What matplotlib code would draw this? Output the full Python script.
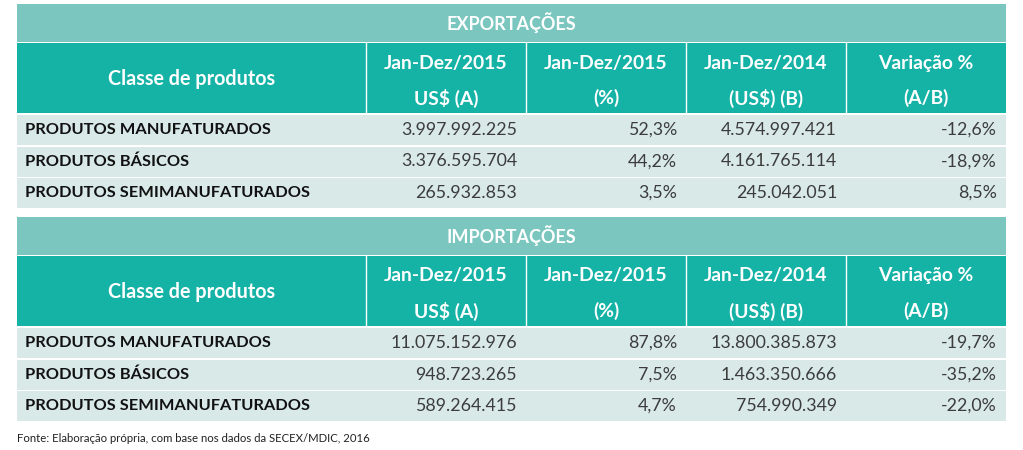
import matplotlib
matplotlib.use("Agg")
import matplotlib.pyplot as plt
from matplotlib.patches import Rectangle

# ---- data ----
categories = ["PRODUTOS MANUFATURADOS", "PRODUTOS BÁSICOS", "PRODUTOS SEMIMANUFATURADOS"]
col_headers = [("Jan-Dez/2015", "US$ (A)"), ("Jan-Dez/2015", "(%)"),
               ("Jan-Dez/2014", "(US$) (B)"), ("Variação %", "(A/B)")]
first_header = "Classe de produtos"

exp_title = "EXPORTAÇÕES"
exp_2015 = [3997992225, 3376595704, 265932853]
exp_share = [52.3, 44.2, 3.5]
exp_2014 = [4574997421, 4161765114, 245042051]
exp_var = [-12.6, -18.9, 8.5]

imp_title = "IMPORTAÇÕES"
imp_2015 = [11075152976, 948723265, 589264415]
imp_share = [87.8, 7.5, 4.7]
imp_2014 = [13800385873, 1463350666, 754990349]
imp_var = [-19.7, -35.2, -22.0]

footer = "Fonte: Elaboração própria, com base nos dados da SECEX/MDIC, 2016"

# ---- style ----
BAND = "#7bc7bf"
HEAD = "#15b2a6"
ROW = "#d8e9e8"
FONT = "Lato"


def fmt_int(v):
    return f"{v:,}".replace(",", ".")


def fmt_pct(v):
    return f"{v:.1f}%".replace(".", ",")


fig = plt.figure(figsize=(10.23, 4.5), dpi=100)
ax = fig.add_axes([0, 0, 1, 1])
ax.set_xlim(0, 1023)
ax.set_ylim(450, 0)
ax.axis("off")

x0, x1 = 17, 1006
col_edges = [17, 366, 526, 686, 846, 1006]


def draw_section(top, title, v2015, share, v2014, var):
    # title band
    ax.add_patch(Rectangle((x0, top), x1 - x0, 38, color=BAND, lw=0))
    ax.text((x0 + x1) / 2, top + 19, title, ha="center", va="center",
            color="white", fontsize=13, fontweight="bold", family=FONT)
    # header
    htop = top + 39
    ax.add_patch(Rectangle((x0, htop), x1 - x0, 70, color=HEAD, lw=0))
    for e in col_edges[1:-1]:
        ax.plot([e, e], [htop, htop + 70], color="white", lw=1.0)
    ax.text((col_edges[0] + col_edges[1]) / 2, htop + 36, first_header,
            ha="center", va="center", color="white", fontsize=14.2,
            fontweight="bold", family=FONT)
    for i, (l1, l2) in enumerate(col_headers):
        cx = (col_edges[i + 1] + col_edges[i + 2]) / 2
        ax.text(cx, htop + 20, l1, ha="center", va="center", color="white",
                fontsize=13.9, fontweight="bold", family=FONT)
        ax.text(cx, htop + 55, l2, ha="center", va="center", color="white",
                fontsize=13.9, fontweight="bold", family=FONT)
    # rows
    rtop = htop + 72
    for r, cat in enumerate(categories):
        y = rtop + r * 31.5
        ax.add_patch(Rectangle((x0, y), x1 - x0, 30, color=ROW, lw=0))
        yc = y + 15
        ax.text(x0 + 8, yc, cat, ha="left", va="center", color="#111111",
                fontsize=11.8, fontweight="bold", family=FONT)
        vals = [fmt_int(v2015[r]), fmt_pct(share[r]), fmt_int(v2014[r]), fmt_pct(var[r])]
        for i, s in enumerate(vals):
            ax.text(col_edges[i + 2] - 9, yc, s, ha="right", va="center",
                    color="#3c3c3c", fontsize=12.8, family=FONT)


draw_section(4, exp_title, exp_2015, exp_share, exp_2014, exp_var)
draw_section(217, imp_title, imp_2015, imp_share, imp_2014, imp_var)

ax.text(x0, 439, footer, ha="left", va="center", color="#222222",
        fontsize=8.2, family=FONT)

fig.savefig("out.png", dpi=100)
